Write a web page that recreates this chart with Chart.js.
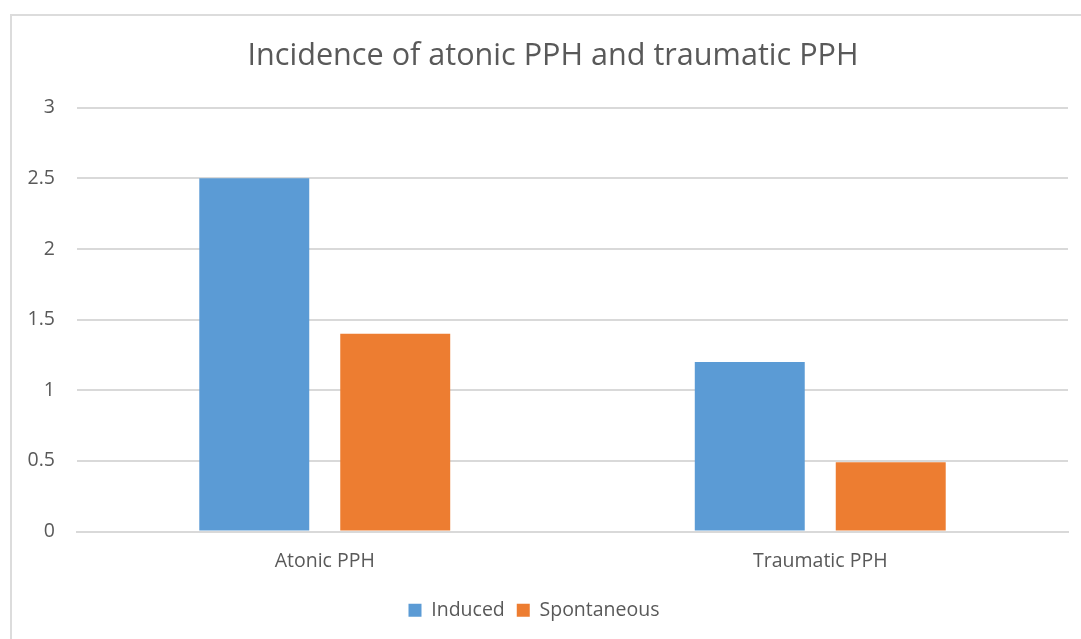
<!DOCTYPE html>
<html>
<head>
<meta charset="utf-8">
<script src="https://cdn.jsdelivr.net/npm/chart.js@4"></script>
<style>
    body { margin: 0; background: #fff; }
    #wrap { position: relative; width: 1081px; height: 639px; overflow: hidden; }
    #frame { position: absolute; left: 10px; top: 14px; width: 1100px; height: 700px; border: 2px solid #dcdcdc; box-sizing: border-box; }
    #chart { position: absolute; left: 0; top: 0; }
</style>
</head>
<body>
<div id="wrap">
    <div id="frame"></div>
    <canvas id="chart" width="1081" height="639"></canvas>
</div>
<script>
// chart data
const categories = ['Atonic PPH', 'Traumatic PPH'];
const induced = [2.5, 1.2];
const spontaneous = [1.4, 0.49];
const yTicks = [0, 0.5, 1, 1.5, 2, 2.5, 3];

const textColor = '#595959';
const gridColor = '#d9d9d9';

// title is centred on the whole frame, not on the plot, so nudge it right
const shiftTitle = {
    id: 'shiftTitle',
    afterLayout: function(chart) {
        if (chart.titleBlock) {
            chart.titleBlock.left += 19;
            chart.titleBlock.right += 19;
        }
    }
};

new Chart(document.getElementById('chart'), {
    type: 'bar',
    data: {
        labels: categories,
        datasets: [
            {
                label: 'Induced',
                data: induced,
                backgroundColor: '#5B9BD5'
            },
            {
                label: 'Spontaneous',
                data: spontaneous,
                backgroundColor: '#ED7D31'
            }
        ]
    },
    plugins: [shiftTitle],
    options: {
        responsive: false,
        animation: false,
        categoryPercentage: 0.569,
        barPercentage: 0.78,
        layout: {
            padding: { left: 0, right: 13, top: 38, bottom: 9 }
        },
        plugins: {
            title: {
                display: true,
                text: 'Incidence of atonic PPH and traumatic PPH',
                color: textColor,
                font: { family: 'Open Sans', size: 30.6, weight: 'normal' },
                padding: { top: 0, bottom: 33 }
            },
            legend: {
                position: 'bottom',
                labels: {
                    color: textColor,
                    font: { family: 'Open Sans', size: 19.5 },
                    boxWidth: 13,
                    boxHeight: 13,
                    padding: 12
                }
            },
            tooltip: { enabled: false }
        },
        scales: {
            x: {
                grid: { display: false, drawTicks: false },
                border: { color: gridColor, width: 2 },
                ticks: {
                    color: textColor,
                    font: { family: 'Open Sans', size: 19.5 },
                    padding: 18
                },
                afterFit: function(scale) { scale.height = 57; }
            },
            y: {
                min: 0,
                max: 3,
                afterBuildTicks: function(scale) {
                    scale.ticks = yTicks.map(v => ({ value: v }));
                },
                grid: { color: gridColor, lineWidth: 2, drawTicks: false },
                border: { display: false },
                ticks: {
                    color: textColor,
                    font: { family: 'Open Sans', size: 19.5 },
                    padding: 22,
                    callback: function(value) { return String(value); }
                },
                afterFit: function(scale) { scale.width = 77; }
            }
        }
    }
});
</script>
</body>
</html>
